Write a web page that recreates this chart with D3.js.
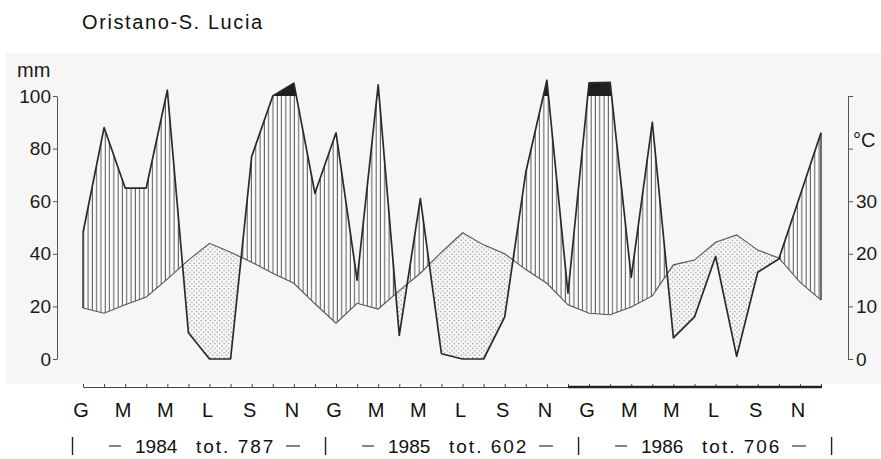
<!DOCTYPE html>
<html>
<head>
<meta charset="utf-8">
<script src="https://cdn.jsdelivr.net/npm/d3@7"></script>
<style>
  body { margin: 0; background: #fff; }
  svg { display: block; font-family: "Liberation Sans", Arial, sans-serif; }
</style>
</head>
<body>
<div id="chart"></div>
<script>
const monthLabels = ["G", "M", "M", "L", "S", "N"];
const years = ["1984", "1985", "1986"];
const totals = [787, 602, 706];
// monthly rainfall (mm), Jan 1984 - Dec 1986
const precip = [48, 88, 65, 65, 122, 10, 0, 0, 77, 100, 149, 63,
  86, 30, 142, 9, 61, 2, 0, 0, 16, 71, 160, 25,
  150, 152, 31, 90, 8, 16, 39, 1, 33, 38, 62, 86];
// monthly mean temperature (°C)
const temp = [9.7, 8.7, 10.3, 11.8, 15.2, 18.8, 22, 20.3, 18.4, 16.3, 14.4, 10.5,
  6.8, 10.6, 9.5, 13, 16.3, 20.3, 24, 21.7, 20, 17, 14.4, 10.3,
  8.7, 8.4, 9.9, 12, 17.9, 18.8, 22.2, 23.6, 20.7, 19.2, 14.6, 11.2];
const mmTicks = [0, 20, 40, 60, 80, 100];
const tempTicks = [0, 10, 20, 30, 40, 50];

(function climate() {
  let width = 881, height = 459;

  const svg = d3.select("#chart")
    .append("svg")
    .attr("width", width)
    .attr("height", height);

  let x = d3.scaleLinear().domain([0, 35]).range([83, 821]);
  let y = d3.scaleLinear().domain([0, 100]).range([359, 96]);
  let yT = d3.scaleLinear().domain([0, 50]).range([359, 96]);
  // above 100 mm the rain scale is reduced to 1/10
  let comp = v => v <= 100 ? v : 100 + (v - 100) / 10;

  let data = precip.map((p, i) => ({ i: i, p: p, t: temp[i] }));
  let tY = d => yT(d.t), pY = d => y(comp(d.p));

  svg.append("rect")
    .attr("x", 6).attr("y", 53)
    .attr("width", width - 6).attr("height", 331)
    .attr("fill", "#f6f6f6");

  const defs = svg.append("defs");

  const hatch = defs.append("pattern")
    .attr("id", "hatch")
    .attr("patternUnits", "userSpaceOnUse")
    .attr("width", 4.3).attr("height", 10);
  hatch.append("rect").attr("width", 4.3).attr("height", 10).attr("fill", "#fcfcfc");
  hatch.append("line")
    .attr("x1", 2).attr("x2", 2).attr("y1", 0).attr("y2", 10)
    .attr("stroke", "#444").attr("stroke-width", 0.9);

  const dots = defs.append("pattern")
    .attr("id", "dots")
    .attr("patternUnits", "userSpaceOnUse")
    .attr("width", 4.6).attr("height", 4.6);
  dots.append("rect").attr("width", 4.6).attr("height", 4.6).attr("fill", "#f8f8f8");
  dots.append("circle").attr("cx", 1.1).attr("cy", 1.1).attr("r", 0.6).attr("fill", "#666");
  dots.append("circle").attr("cx", 3.4).attr("cy", 3.4).attr("r", 0.6).attr("fill", "#666");

  defs.append("clipPath").attr("id", "aboveT")
    .append("path")
    .attr("d", d3.area().x(d => x(d.i)).y0(tY).y1(0)(data));
  defs.append("clipPath").attr("id", "belowT")
    .append("path")
    .attr("d", d3.area().x(d => x(d.i)).y0(tY).y1(height)(data));
  defs.append("clipPath").attr("id", "below100")
    .append("rect").attr("x", 0).attr("y", y(100)).attr("width", width).attr("height", height);
  defs.append("clipPath").attr("id", "above100")
    .append("rect").attr("x", 0).attr("y", 0).attr("width", width).attr("height", y(100));

  let between = d3.area().x(d => x(d.i)).y0(tY).y1(pY);

  // humid period: vertical hatching
  svg.append("g")
    .attr("clip-path", "url(#below100)")
    .append("path")
    .attr("d", between(data))
    .attr("fill", "url(#hatch)")
    .attr("clip-path", "url(#aboveT)");

  // dry period: dots
  svg.append("path")
    .attr("d", between(data))
    .attr("fill", "url(#dots)")
    .attr("clip-path", "url(#belowT)");

  // rain above 100 mm: black
  svg.append("path")
    .attr("d", between(data))
    .attr("fill", "#1e1e1e")
    .attr("clip-path", "url(#above100)");

  svg.append("path")
    .datum(data)
    .attr("fill", "none")
    .attr("stroke", "#555")
    .attr("stroke-width", 1.1)
    .attr("d", d3.line().x(d => x(d.i)).y(tY));

  svg.append("path")
    .datum(data)
    .attr("fill", "none")
    .attr("stroke", "#2a2a2a")
    .attr("stroke-width", 1.7)
    .attr("stroke-linejoin", "round")
    .attr("d", d3.line().x(d => x(d.i)).y(pY));

  [data[0], data[data.length - 1]].forEach(d => {
    svg.append("line")
      .attr("x1", x(d.i)).attr("x2", x(d.i))
      .attr("y1", tY(d)).attr("y2", pY(d))
      .attr("stroke", "#333").attr("stroke-width", 1.4);
  });

  // axes
  let left = svg.append("g")
    .attr("transform", "translate(57,0)")
    .call(d3.axisLeft(y).tickValues(mmTicks).tickSize(4).tickPadding(2).tickSizeOuter(0));

  let right = svg.append("g")
    .attr("transform", "translate(848,0)")
    .call(d3.axisRight(yT).tickValues(tempTicks)
      .tickFormat(d => d <= 30 ? d : "")
      .tickSize(5).tickPadding(3).tickSizeOuter(0));

  [left, right].forEach(g => {
    g.selectAll("text").attr("font-size", 19).attr("fill", "#1a1a1a").attr("font-family", null);
    g.selectAll("line, path").attr("stroke", "#555");
  });

  svg.append("text")
    .attr("x", 17).attr("y", 77)
    .attr("font-size", 20).attr("fill", "#1a1a1a")
    .text("mm");

  svg.append("text")
    .attr("x", 853).attr("y", 147)
    .attr("font-size", 20).attr("fill", "#1a1a1a")
    .text("°C");

  let bottom = svg.append("g")
    .attr("transform", "translate(0,387)")
    .call(d3.axisBottom(x).tickValues(d3.range(36)).tickSize(-3).tickFormat("").tickSizeOuter(0));
  bottom.selectAll("line, path").attr("stroke", "#444");

  svg.append("line")
    .attr("x1", x(23)).attr("x2", x(35) + 1)
    .attr("y1", 387).attr("y2", 387)
    .attr("stroke", "#222").attr("stroke-width", 2.5);

  svg.selectAll(".month")
    .data(d3.range(0, 36, 2))
    .join("text")
    .attr("class", "month")
    .attr("x", d => x(d) - 2)
    .attr("y", 417)
    .attr("text-anchor", "middle")
    .attr("font-size", 20)
    .attr("fill", "#111")
    .text(d => monthLabels[(d / 2) % 6]);

  // year row
  years.forEach((yr, k) => {
    let base = x(12 * k);
    let g = svg.append("g").attr("font-size", 19).attr("fill", "#111");
    g.append("line")
      .attr("x1", base + 26).attr("x2", base + 38)
      .attr("y1", 446).attr("y2", 446)
      .attr("stroke", "#222").attr("stroke-width", 1.1);
    g.append("text").attr("x", base + 52).attr("y", 453).text(yr);
    g.append("text").attr("x", base + 113).attr("y", 453)
      .attr("letter-spacing", 2).text("tot. " + totals[k]);
    g.append("line")
      .attr("x1", base + 203).attr("x2", base + 217)
      .attr("y1", 446).attr("y2", 446)
      .attr("stroke", "#222").attr("stroke-width", 1.1);
  });

  d3.range(4).forEach(k => {
    let xs = x(12 * k) - 10.5;
    svg.append("line")
      .attr("x1", xs).attr("x2", xs)
      .attr("y1", 437).attr("y2", 455)
      .attr("stroke", "#222").attr("stroke-width", 1.4);
  });

  svg.append("text")
    .attr("x", 82).attr("y", 29)
    .attr("font-size", 20)
    .attr("letter-spacing", 1.6)
    .attr("fill", "#111")
    .text("Oristano-S. Lucia");
})();
</script>
</body>
</html>
